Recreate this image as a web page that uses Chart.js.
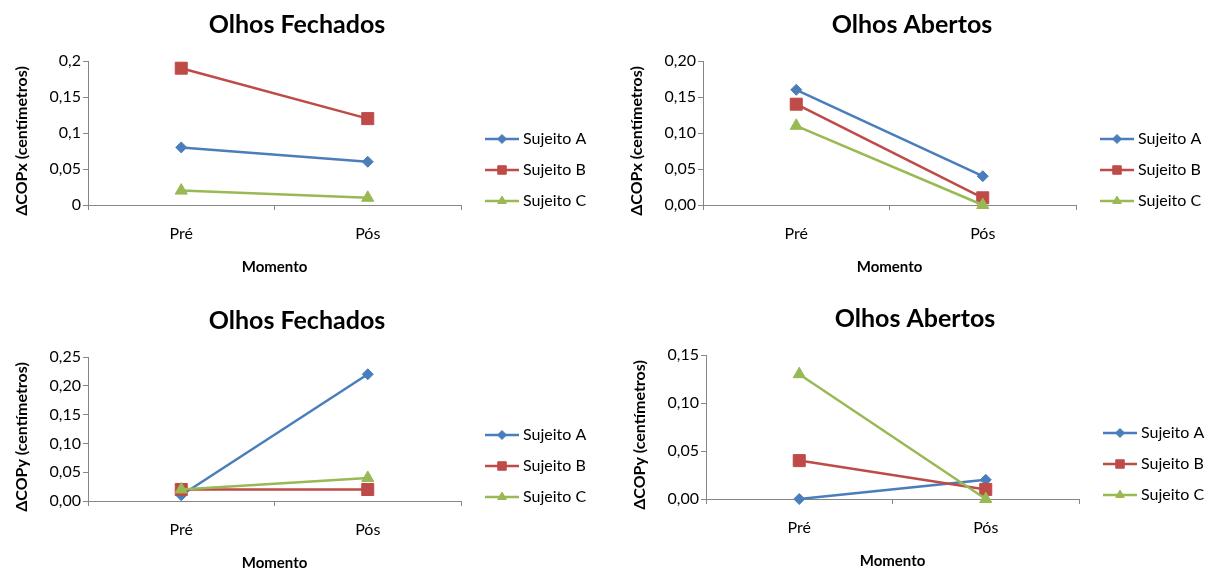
<!DOCTYPE html>
<html>
<head>
<meta charset="utf-8">
<title>ΔCOP – Olhos Fechados / Olhos Abertos</title>
<script src="https://cdn.jsdelivr.net/npm/chart.js@4.4.1/dist/chart.umd.min.js"></script>
<style>
  html, body { margin: 0; padding: 0; background: #ffffff; width: 1214px; height: 569px; overflow: hidden; }
  canvas { position: absolute; }
</style>
</head>
<body>
<canvas id="copxFechados" width="600" height="285" style="left:0px;top:0px"></canvas>
<canvas id="copxAbertos" width="600" height="285" style="left:615px;top:0px"></canvas>
<canvas id="copyFechados" width="600" height="285" style="left:0px;top:296px"></canvas>
<canvas id="copyAbertos" width="600" height="285" style="left:618px;top:294px"></canvas>
<script>
// Momentos de avaliação e sujeitos
const categories = ['Pré', 'Pós'];
const subjects = ['Sujeito A', 'Sujeito B', 'Sujeito C'];

// ΔCOPx – olhos fechados
const copxFechadosA = [0.08, 0.06];
const copxFechadosB = [0.19, 0.12];
const copxFechadosC = [0.02, 0.01];

// ΔCOPx – olhos abertos
const copxAbertosA = [0.16, 0.04];
const copxAbertosB = [0.14, 0.01];
const copxAbertosC = [0.11, 0.00];

// ΔCOPy – olhos fechados
const copyFechadosA = [0.01, 0.22];
const copyFechadosB = [0.02, 0.02];
const copyFechadosC = [0.02, 0.04];

// ΔCOPy – olhos abertos
const copyAbertosA = [0.00, 0.02];
const copyAbertosB = [0.04, 0.01];
const copyAbertosC = [0.13, 0.00];

// Rótulos do eixo vertical de cada gráfico (de baixo para cima)
const ticksCopxFechados = ['0', '0,05', '0,1', '0,15', '0,2'];
const ticksCopxAbertos = ['0,00', '0,05', '0,10', '0,15', '0,20'];
const ticksCopyFechados = ['0,00', '0,05', '0,10', '0,15', '0,20', '0,25'];
const ticksCopyAbertos = ['0,00', '0,05', '0,10', '0,15'];

const FONT = 'Lato, "Open Sans", "DejaVu Sans", sans-serif';
const AXIS_GRAY = '#868686';
const TEXT = '#000000';

const seriesStyle = [
  { color: '#4A7EBB', pointStyle: 'rectRot', radius: 5.5, legendRadius: 4.5 },
  { color: '#BE4B48', pointStyle: 'rect', radius: 8.5, legendRadius: 6 },
  { color: '#98B954', pointStyle: 'triangle', radius: 7, legendRadius: 5 }
];

// Plot-area frame inside each canvas
const FRAME = { axisX: 88, top: 61, bottom: 205, right: 461 };

// Title, vertical axis title and legend drawn around the plot area
const panelDecor = {
  id: 'panelDecor',
  afterDraw(chart, args, opts) {
    const ctx = chart.ctx;
    const area = chart.chartArea;
    ctx.save();
    // chart title
    ctx.fillStyle = TEXT;
    ctx.font = 'bold 25px ' + FONT;
    ctx.textAlign = 'center';
    ctx.textBaseline = 'middle';
    ctx.fillText(opts.title, 297, 25);

    // vertical axis title
    ctx.save();
    ctx.translate(22, (area.top + area.bottom) / 2 + 8);
    ctx.rotate(-Math.PI / 2);
    ctx.font = 'bold 16px ' + FONT;
    ctx.fillText(opts.yTitle, 0, 0);
    ctx.restore();

    // legend: line with marker, then the series name
    const x0 = area.right + 24;
    chart.data.datasets.forEach((ds, i) => {
      const y = area.top + 78 + i * 31;
      ctx.strokeStyle = ds.borderColor;
      ctx.lineWidth = ds.borderWidth;
      ctx.beginPath();
      ctx.moveTo(x0, y);
      ctx.lineTo(x0 + 34, y);
      ctx.stroke();
      ctx.fillStyle = ds.backgroundColor;
      ctx.strokeStyle = ds.borderColor;
      ctx.lineWidth = 1;
      Chart.helpers.drawPoint(ctx, {
        pointStyle: ds.pointStyle, radius: seriesStyle[i].legendRadius, rotation: 0, borderWidth: 1
      }, x0 + 17, y);
      ctx.fillStyle = TEXT;
      ctx.font = '16px ' + FONT;
      ctx.textAlign = 'left';
      ctx.textBaseline = 'middle';
      ctx.fillText(ds.label, x0 + 38, y);
    });
    ctx.restore();
  }
};

function buildChart(id, title, yTitle, series, tickLabels) {
  const canvas = document.getElementById(id);
  const W = canvas.width, H = canvas.height;
  const yMax = parseFloat(tickLabels[tickLabels.length - 1].replace(',', '.'));
  const datasets = series.map((values, i) => ({
    label: subjects[i],
    data: values,
    borderColor: seriesStyle[i].color,
    backgroundColor: seriesStyle[i].color,
    pointBackgroundColor: seriesStyle[i].color,
    pointBorderColor: seriesStyle[i].color,
    borderWidth: 2.5,
    pointStyle: seriesStyle[i].pointStyle,
    pointRadius: seriesStyle[i].radius,
    pointBorderWidth: 1,
    tension: 0,
    clip: false,
    order: series.length - i
  }));
  return new Chart(canvas, {
    type: 'line',
    data: { labels: categories, datasets },
    plugins: [panelDecor],
    options: {
      responsive: false,
      animation: false,
      events: [],
      layout: { padding: { left: 0, top: FRAME.top, right: W - FRAME.right, bottom: 0 } },
      plugins: {
        legend: { display: false },
        title: { display: false },
        tooltip: { enabled: false },
        panelDecor: { title, yTitle }
      },
      scales: {
        x: {
          type: 'category',
          offset: true,
          afterFit(scale) { scale.height = H - FRAME.bottom; },
          grid: { offset: true, drawOnChartArea: false, drawTicks: true, tickLength: 5, color: AXIS_GRAY, lineWidth: 1 },
          border: { color: AXIS_GRAY, width: 1 },
          ticks: { color: TEXT, font: { family: FONT, size: 16 }, padding: 14 },
          title: { display: true, text: 'Momento', color: TEXT, font: { family: FONT, size: 15, weight: 'bold' }, padding: { top: 0, bottom: 9 } }
        },
        y: {
          min: 0,
          max: yMax,
          afterFit(scale) { scale.width = FRAME.axisX; },
          grid: { drawOnChartArea: false, drawTicks: true, tickLength: 5, color: AXIS_GRAY, lineWidth: 1 },
          border: { color: AXIS_GRAY, width: 1 },
          ticks: {
            stepSize: 0.05,
            color: TEXT,
            font: { family: FONT, size: 16 },
            padding: 2,
            callback: (value, index) => tickLabels[index]
          }
        }
      }
    }
  });
}

buildChart('copxFechados', 'Olhos Fechados', 'ΔCOPx (centímetros)',
  [copxFechadosA, copxFechadosB, copxFechadosC], ticksCopxFechados);
buildChart('copxAbertos', 'Olhos Abertos', 'ΔCOPx (centímetros)',
  [copxAbertosA, copxAbertosB, copxAbertosC], ticksCopxAbertos);
buildChart('copyFechados', 'Olhos Fechados', 'ΔCOPy (centímetros)',
  [copyFechadosA, copyFechadosB, copyFechadosC], ticksCopyFechados);
buildChart('copyAbertos', 'Olhos Abertos', 'ΔCOPy (centímetros)',
  [copyAbertosA, copyAbertosB, copyAbertosC], ticksCopyAbertos);
</script>
</body>
</html>
